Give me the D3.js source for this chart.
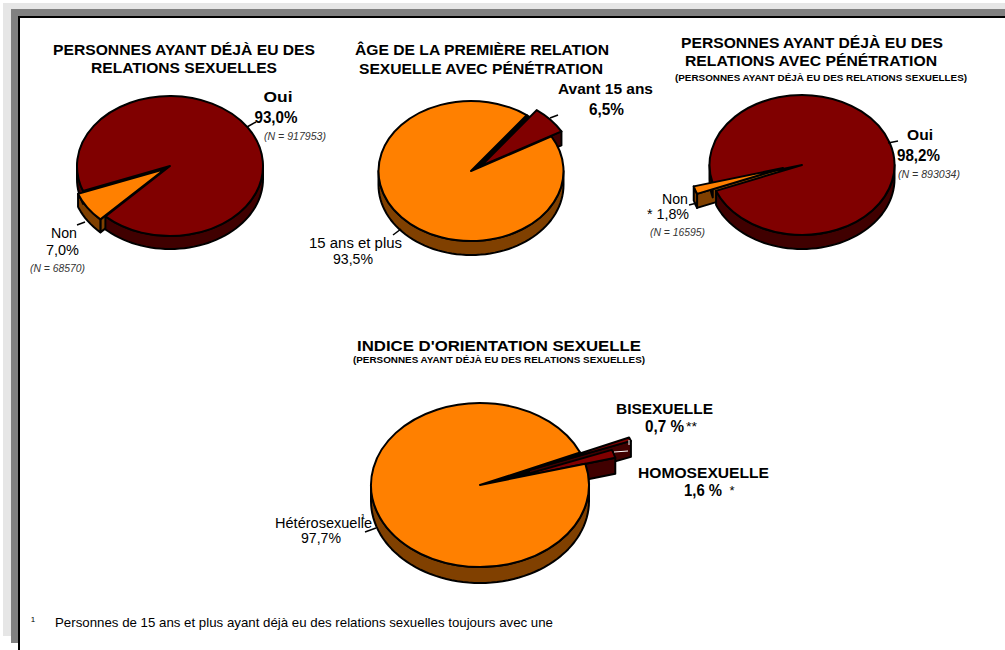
<!DOCTYPE html>
<html><head><meta charset="utf-8">
<script src="https://cdn.jsdelivr.net/npm/d3@7"></script>
<style>html,body{margin:0;padding:0;background:#fff}svg{display:block}text{font-family:"Liberation Sans",Arial,sans-serif;fill:#000}</style>
</head><body><svg id="c" width="1005" height="650"></svg>
<script>
const pie1Labels=["Non","Oui"], pie1Values=[7.0,93.0];
const pie2Labels=["Avant 15 ans","15 ans et plus"], pie2Values=[6.5,93.5];
const pie3Labels=["Non","Oui"], pie3Values=[1.8,98.2];
const pie4Labels=["Bisexuelle","Homosexuelle","Hétérosexuelle"], pie4Values=[0.7,1.6,97.7];
const RED={top:"#800000",side:"#400000"}, ORG={top:"#FF8000",side:"#804000"};
const rad=d=>d*Math.PI/180;
const svg=d3.select("#c");
svg.append("rect").attr("x",3).attr("y",3).attr("width",1002).attr("height",633).attr("fill","#e6e6e6");
svg.append("rect").attr("x",11).attr("y",9).attr("width",994).attr("height",634).attr("fill","#808080");
svg.append("rect").attr("x",19).attr("y",17).attr("width",990).attr("height",640).attr("fill","#fff").attr("stroke","#000").attr("stroke-width",2);

const charts=[
 {values:pie1Values,start:224,cx:170,cy:166,rx:93,ry:70,d:13,colors:[ORG,RED],off:[[-5,3],[0,0]],back:false},
 {values:pie2Values,start:37,cx:471,cy:171,rx:92.5,ry:70,d:14,colors:[RED,ORG],off:[[10,-5],[0,0]],back:true},
 {values:pie3Values,start:248.3,cx:802,cy:165,rx:92.5,ry:70,d:14,colors:[ORG,RED],off:[[-19,3],[0,0]],back:false},
 {values:pie4Values,start:66.7,cx:480,cy:485,rx:109,ry:82,d:16,colors:[RED,RED,ORG],off:[[49,-15],[30,-6],[0,0]],back:true}
];
function drawPie(c){
  const arcs=d3.pie().sort(null).startAngle(rad(c.start)).endAngle(rad(c.start)+2*Math.PI)(c.values);
  const g=svg.append("g").attr("transform",`translate(${c.cx},${c.cy})`);
  const arc=d3.arc().innerRadius(0).outerRadius(c.rx);
  const line=d3.line();
  const pt=(a,dy=0,o=[0,0])=>[o[0]+c.rx*Math.sin(a),o[1]-c.ry*Math.cos(a)+dy];
  const top=(a,o,col,host)=>host.append("path").attr("d",arc(a))
     .attr("transform",`translate(${o[0]},${o[1]}) scale(1,${c.ry/c.rx})`)
     .attr("fill",col).attr("stroke","#000").attr("stroke-width",2)
     .attr("vector-effect","non-scaling-stroke").attr("stroke-linejoin","round");
  const poly=(p,col)=>g.append("path").attr("d",line(p)+"Z").attr("fill",col).attr("stroke","#000").attr("stroke-width",2).attr("stroke-linejoin","round");
  const sides=(a,o,col)=>{
    [0,2*Math.PI].forEach(t=>{
      const s=Math.max(a.startAngle-t,Math.PI/2), e=Math.min(a.endAngle-t,3*Math.PI/2);
      if(e>s){
        const as=d3.range(s,e,rad(3)).concat([e]);
        poly(as.map(x=>pt(x,0,o)).concat(as.slice().reverse().map(x=>pt(x,c.d,o))),col);
      }
    });
  };
  const cut=(ang,o,col)=>poly([[o[0],o[1]],pt(ang,0,o),pt(ang,c.d,o),[o[0],o[1]+c.d]],col);
  const main=arcs[arcs.length-1], small=arcs.slice(0,-1);
  small.forEach(a=>top(a,[0,0],"#000",g));
  small.forEach((a,i)=>{
    const col=c.colors[i],o=c.off[i];
    cut(c.back?a.endAngle:a.startAngle,o,col.side);
    sides(a,o,col.side);
  });
  if(c.back) small.forEach((a,i)=>top(a,c.off[i],c.colors[i].top,g));
  sides(main,[0,0],c.colors[arcs.length-1].side);
  top(main,[0,0],c.colors[arcs.length-1].top,g);
  if(!c.back) small.forEach((a,i)=>top(a,c.off[i],c.colors[i].top,g));
}
charts.forEach(drawPie);

const leaders=[[247,127,256,122],[77,225,85,222],[393,235,401,229],[550,118,558,115],[888,143,898,141],[689,205,697,203],[365,532,376,528]];
svg.append("g").selectAll("line").data(leaders).join("line")
 .attr("x1",d=>d[0]).attr("y1",d=>d[1]).attr("x2",d=>d[2]).attr("y2",d=>d[3]).attr("stroke","#000").attr("stroke-width",1.5);
svg.append("g").selectAll("line").data([[614,452,628,451],[629,440,629,445]]).join("line")
 .attr("x1",d=>d[0]).attr("y1",d=>d[1]).attr("x2",d=>d[2]).attr("y2",d=>d[3]).attr("stroke","#fff").attr("stroke-width",1);

// text, centre x, baseline y, size, weight, style, width
const texts=[
["PERSONNES AYANT DÉJÀ EU DES",184,55,15,"bold","normal",262],
["RELATIONS SEXUELLES",184,73,15,"bold","normal",186],
["Oui",278,102,15,"bold","normal",29],
["93,0%",276,123,16,"bold","normal",43],
["(N = 917953)",295,140,10,"normal","italic",62],
["Non",64,238,14,"normal","normal",26],
["7,0%",62.5,255,14,"normal","normal",33],
["(N = 68570)",57.5,272,10,"normal","italic",55],
["ÂGE DE LA PREMIÈRE RELATION",482,55,15,"bold","normal",254],
["SEXUELLE AVEC PÉNÉTRATION",481,74,15,"bold","normal",244],
["Avant 15 ans",605.5,94,15,"bold","normal",95],
["6,5%",606.5,115,16,"bold","normal",35],
["15 ans et plus",355.5,248,14,"normal","normal",93],
["93,5%",353,264,14,"normal","normal",40],
["PERSONNES AYANT DÉJÀ EU DES",812,48,15,"bold","normal",262],
["RELATIONS AVEC PÉNÉTRATION",811,66,15,"bold","normal",252],
["(PERSONNES AYANT DÉJÀ EU DES RELATIONS SEXUELLES)",821,81,9,"bold","normal",292],
["Oui",920,140,15,"bold","normal",26],
["98,2%",918.5,161,16,"bold","normal",43],
["(N = 893034)",929,178,10,"normal","italic",62],
["Non",675,204,14,"normal","normal",26],
["* 1,8%",668,219,14,"normal","normal",42],
["(N = 16595)",677.5,236,10,"normal","italic",55],
["INDICE D'ORIENTATION SEXUELLE",499,351,15,"bold","normal",284],
["(PERSONNES AYANT DÉJÀ EU DES RELATIONS SEXUELLES)",499,363,9,"bold","normal",292],
["BISEXUELLE",664.5,414,15,"bold","normal",97],
["0,7 %",664.5,432,16,"bold","normal",39],
["**",691.5,431,13,"normal","normal",11],
["HOMOSEXUELLE",703.5,478,15,"bold","normal",131],
["1,6 %",703,496,16,"bold","normal",38],
["*",732,495,13,"normal","normal"],
["Hétérosexuelle",323.5,528,14,"normal","normal",97],
["97,7%",321,543,14,"normal","normal",40],
["1",363,519,8,"normal","normal"],
["1",33,622,8,"normal","normal"],
["Personnes de 15 ans et plus ayant déjà eu des relations sexuelles toujours avec une",304,627,13,"normal","normal",498]
];
svg.append("g").selectAll("text").data(texts).join("text")
 .attr("x",d=>d[1]).attr("y",d=>d[2]).attr("font-size",d=>d[3]).attr("font-weight",d=>d[4]).attr("font-style",d=>d[5])
 .attr("text-anchor","middle").text(d=>d[0])
 .each(function(d){ if(d[6]){ this.setAttribute("textLength",d[6]); this.setAttribute("lengthAdjust","spacingAndGlyphs"); } })
 .style("fill",d=>d[5]==="italic"?"#333":"#000");
</script></body></html>
